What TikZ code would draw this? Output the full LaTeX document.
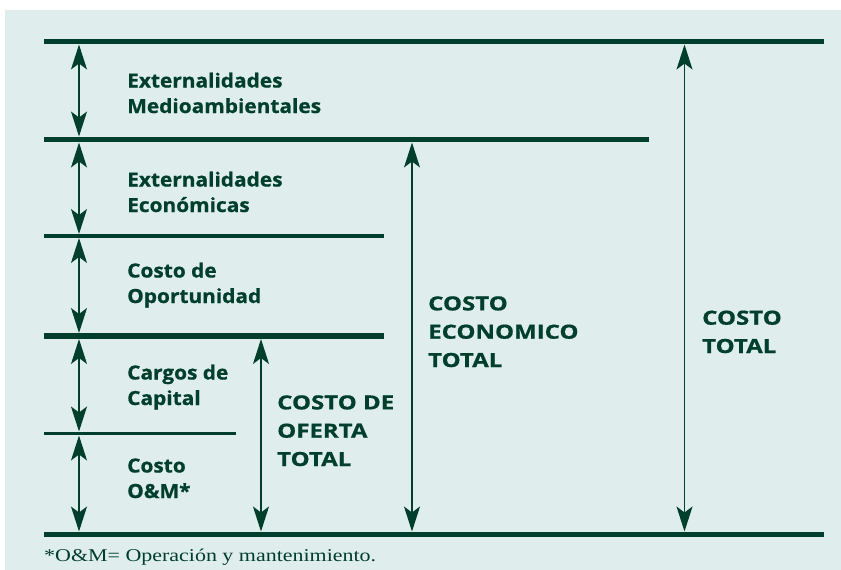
\documentclass[tikz,border=0pt]{standalone}
\usepackage{fontspec}
\setmainfont{Open Sans}
\newfontfamily\lblfont[FakeStretch=1.07, BoldFeatures={FakeBold=0.7}]{Open Sans}
\newfontfamily\capfont[FakeStretch=1.23, BoldFeatures={FakeBold=0.7}]{Open Sans}
\newfontfamily\footfont{Liberation Serif}
\usetikzlibrary{arrows.meta}
\definecolor{dgreen}{HTML}{003F2C}
\definecolor{bgc}{HTML}{E0EDED}
\tikzset{
  level/.style={draw=dgreen, line width=5.5pt},
  thinlevel/.style={draw=dgreen, line width=3.5pt},
  dim/.style={draw=dgreen, line width=1.5pt, {Stealth[length=25pt,width=16pt,inset=6pt]}-{Stealth[length=25pt,width=16pt,inset=6pt]}},
  lbl/.style={anchor=base west, inner sep=0pt, align=left, text=dgreen, font=\lblfont\bfseries\fontsize{19.5}{25.5}\selectfont},
  biglbl/.style={anchor=base west, inner sep=0pt, align=left, text=dgreen, font=\capfont\bfseries\fontsize{19.5}{28.3}\selectfont},
}
\begin{document}
\begin{tikzpicture}[x=1pt,y=-1pt]
\useasboundingbox (0,0) rectangle (841,570);
\fill[bgc] (5,10) rectangle (841,570);
% level lines
\coordinate (l1a) at (44,41.5);  \coordinate (l1b) at (824,41.5);
\coordinate (l2a) at (44,139.5); \coordinate (l2b) at (649,139.5);
\coordinate (l3a) at (44,236);   \coordinate (l3b) at (384,236);
\coordinate (l4a) at (44,336);   \coordinate (l4b) at (384,336);
\coordinate (l5a) at (44,433.5); \coordinate (l5b) at (236,433.5);
\coordinate (l6a) at (44,534.5); \coordinate (l6b) at (824,534.5);
\draw[level] (l1a) -- (l1b);
\draw[level] (l2a) -- (l2b);
\draw[thinlevel] (l3a) -- (l3b);
\draw[level] (l4a) -- (l4b);
\draw[thinlevel] (l5a) -- (l5b);
\draw[level] (l6a) -- (l6b);
% arrow end points
\coordinate (a1t) at (79,44.5);  \coordinate (a1b) at (79,136.5);
\coordinate (a2t) at (79,142.5); \coordinate (a2b) at (79,234);
\coordinate (a3t) at (79,238);   \coordinate (a3b) at (79,333);
\coordinate (a4t) at (79,339);   \coordinate (a4b) at (79,431.5);
\coordinate (a5t) at (79,435.5); \coordinate (a5b) at (79,531.5);
\coordinate (b1t) at (261,339);  \coordinate (b1b) at (261,531.5);
\coordinate (c1t) at (412,142.5);\coordinate (c1b) at (412,531.5);
\coordinate (d1t) at (684.5,44.5);\coordinate (d1b) at (684.5,531.5);
\draw[dim] (a1t) -- (a1b);
\draw[dim] (a2t) -- (a2b);
\draw[dim] (a3t) -- (a3b);
\draw[dim] (a4t) -- (a4b);
\draw[dim] (a5t) -- (a5b);
\draw[dim] (b1t) -- (b1b);
\draw[dim] (c1t) -- (c1b);
\draw[dim] (d1t) -- (d1b);
% labels (anchor = baseline of the last line)
\node[lbl] (t1) at (127,113) {Externalidades\\Medioambientales};
\node[lbl] (t2) at (127,212) {Externalidades\\Económicas};
\node[lbl] (t3) at (127,303) {Costo de\\Oportunidad};
\node[lbl] (t4) at (127,405) {Cargos de\\Capital};
\node[lbl] (t5) at (127,498) {Costo\\O\&M*};
\node[biglbl] (t6) at (277,466) {COSTO DE\\OFERTA\\TOTAL};
\node[biglbl] (t7) at (428,367) {COSTO\\ECONOMICO\\TOTAL};
\node[biglbl] (t8) at (702,353) {COSTO\\TOTAL};
\node[anchor=base west, inner sep=0pt, text=dgreen, font=\footfont\fontsize{18}{20}\selectfont] (fn) at (44,561) {\scalebox{1.22}[1]{*O\&M= Operación y mantenimiento.}};
\end{tikzpicture}
\end{document}
